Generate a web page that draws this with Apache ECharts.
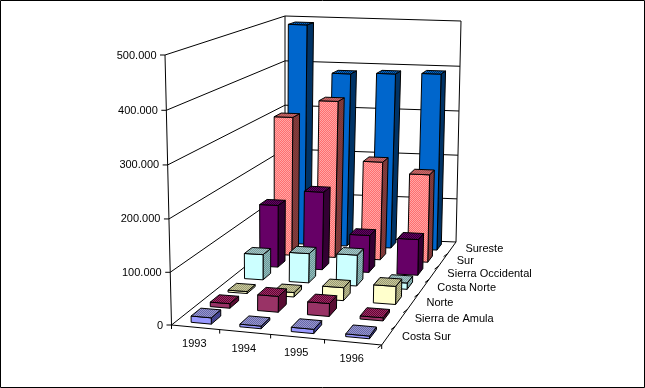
<!DOCTYPE html>
<html><head><meta charset="utf-8">
<style>html,body{margin:0;padding:0;background:#fff}#c{width:645px;height:388px}</style>
<script src="https://cdn.jsdelivr.net/npm/echarts@6/dist/echarts.min.js"></script>
</head><body><div id="c"></div>
<script>
const years = ['1993','1994','1995','1996'];
const regions = ['Costa Sur','Sierra de Amula','Norte','Costa Norte','Sierra Occidental','Sur','Sureste'];
const costaSur   = [12000, 5000, 8000, 5000];
const sierraAmula= [9000, 31000, 25000, 6000];
const norte      = [4000, 9000, 26000, 36000];
const costaNorte = [53000, 61000, 64000, 13000];
const sierraOcc  = [133000, 166000, 79000, 76000];
const sur        = [303000, 341000, 214000, 191000];
const sureste    = [490000, 386000, 389000, 392000];
const seriesValues = [costaSur, sierraAmula, norte, costaNorte, sierraOcc, sur, sureste];
const valueTicks = [0,100000,200000,300000,400000,500000];
const valueLabels = ['0','100.000','200.000','300.000','400.000','500.000'];
const faceColors = [['#9999FF','#9999FF'],['#993366','#993366'],['#FFFFCC','#FFFFCC'],['#CCFFFF','#CCFFFF'],['#660066','#660066'],['#FF6E6E','#FFA6A6'],['#0066CC','#0066CC']];
const sideColors = [['#333399','#555588'],['#660033','#4C1933'],['#999966','#BBBB99'],['#669999','#99BBBB'],['#330033','#330033'],['#993333','#664040'],['#003366','#003366']];
const topColors  = [['#9999CC','#6666AA'],['#993366','#660033'],['#CCCC99','#999977'],['#99CCCC','#889999'],['#660066','#330033'],['#CC6666','#AA5555'],['#0066CC','#003366']];

const W = 645, H = 388;
const floorQuad = [[171.5,325],[381.7,345],[456,242],[285,235]];
const topQuad   = [[165,55],[386,62],[461,21],[285,16]];
const nU = years.length, nV = regions.length;
const barW = 0.42, barD = 0.5, barShift = 0.02, depthWarp = 0.03;

function checker(pair){
  if(pair[0]===pair[1]) return pair[0];
  const cv=document.createElement('canvas'); cv.width=2; cv.height=2;
  const g=cv.getContext('2d');
  g.fillStyle=pair[0]; g.fillRect(0,0,2,2);
  g.fillStyle=pair[1]; g.fillRect(0,0,1,1); g.fillRect(1,1,1,1);
  return {image:cv,repeat:'repeat'};
}
const faceFill=faceColors.map(checker), sideFill=sideColors.map(checker), topFill=topColors.map(checker);

function homography(q){
  const [p0,p1,p2,p3] = q;
  const dx1=p1[0]-p2[0], dx2=p3[0]-p2[0], sx=p0[0]-p1[0]+p2[0]-p3[0];
  const dy1=p1[1]-p2[1], dy2=p3[1]-p2[1], sy=p0[1]-p1[1]+p2[1]-p3[1];
  const den=dx1*dy2-dx2*dy1;
  const g=(sx*dy2-dx2*sy)/den, h=(dx1*sy-sx*dy1)/den;
  const a=p1[0]-p0[0]+g*p1[0], b=p3[0]-p0[0]+h*p3[0], c=p0[0];
  const d=p1[1]-p0[1]+g*p1[1], e=p3[1]-p0[1]+h*p3[1], f=p0[1];
  return (s,t)=>{const w=g*s+h*t+1;return [(a*s+b*t+c)/w,(d*s+e*t+f)/w];};
}
const hFloor = homography(floorQuad), hTop = homography(topQuad);
function project(u,v,z){
  const F=hFloor(u/nU,v/nV), T=hTop(u/nU,v/nV);
  const k=z*(1-depthWarp*(1-z));
  return [F[0]+(T[0]-F[0])*k, F[1]+(T[1]-F[1])*k];
}
const zFrac = (api,val)=> 1-api.coord([0,val])[1]/H;
const line = (pts)=>({type:'polyline',shape:{points:pts},style:{stroke:'#000',lineWidth:1,fill:null},silent:true});
const label = (text,x,y,align)=>({type:'text',x,y,style:{text,fill:'#000',font:'11px "Liberation Sans", Arial, sans-serif',align,verticalAlign:'middle'},silent:true});

const barData = [];
for(let r=nV-1;r>=0;r--) for(let i=0;i<nU;i++) barData.push([i,seriesValues[r][i],r]);

function renderBar(params,api){
  const i=api.value(0), val=api.value(1), r=api.value(2);
  const z=zFrac(api,val);
  const c=i+.5+barShift;
  const u0=c-barW/2,u1=c+barW/2,v0=r+.5-barD/2,v1=r+.5+barD/2;
  const poly=(pts,fill)=>({type:'polygon',shape:{points:pts},style:{fill,stroke:'#000',lineWidth:1},silent:true});
  return {type:'group',children:[
    poly([project(u1,v0,0),project(u1,v1,0),project(u1,v1,z),project(u1,v0,z)],sideFill[r]),
    poly([project(u0,v0,0),project(u1,v0,0),project(u1,v0,z),project(u0,v0,z)],faceFill[r]),
    poly([project(u0,v0,z),project(u1,v0,z),project(u1,v1,z),project(u0,v1,z)],topFill[r])
  ]};
}
function renderValueTick(params,api){
  const idx=params.dataIndex, z=zFrac(api,api.value(1));
  const a=project(0,0,z),b=project(0,nV,z),c=project(nU,nV,z);
  return {type:'group',children:[
    line([a,b,c]),
    line([[a[0]-5,a[1]],a]),
    label(valueLabels[idx],a[0]-8.5,a[1]+0.5,'right')
  ]};
}
function renderYear(params,api){
  const i=api.value(0);
  const t=project(i,0,0), m=project(i+.5,0,0);
  return {type:'group',children:[
    line([t,[t[0],t[1]+4]]),
    label(years[i],m[0]-1,m[1]+16.5,'center')
  ]};
}
function renderRegion(params,api){
  const r=api.value(2);
  const t=project(nU,r,0), m=project(nU,r+.5,0);
  return {type:'group',children:[
    line([t,[t[0]-4,t[1]+3]]),
    label(regions[r],m[0]+13.5,m[1]+1,'left')
  ]};
}
function renderFrame(params,api){
  const zt=zFrac(api,valueTicks[valueTicks.length-1]);
  const t4=project(nU,0,0);
  return {type:'group',children:[
    line([project(0,0,0),project(0,0,zt)]),
    line([project(0,nV,0),project(0,nV,zt)]),
    line([project(nU,nV,0),project(nU,nV,zt)]),
    line([project(0,0,0),t4,project(nU,nV,0)]),
    line([t4,[t4[0],t4[1]+4]])
  ]};
}
const common={type:'custom',clip:false,silent:true,animation:false,encode:{x:0,y:1}};
const chart=echarts.init(document.getElementById('c'),null,{width:W,height:H});
chart.setOption({
  backgroundColor:'#fff',animation:false,
  grid:{left:0,right:0,top:0,bottom:0},
  xAxis:{type:'category',data:years,show:false},
  yAxis:{type:'value',min:0,max:500000,show:false},
  graphic:[{type:'rect',shape:{x:0.5,y:0.5,width:644,height:387},style:{fill:null,stroke:'#000',lineWidth:1},silent:true}],
  series:[
    {...common,z:1,renderItem:renderFrame,data:[[0,0,0]]},
    {...common,z:2,renderItem:renderValueTick,data:valueTicks.map(v=>[0,v,0])},
    {...common,z:3,renderItem:renderYear,data:years.map((y,i)=>[i,0,0])},
    {...common,z:4,renderItem:renderRegion,data:regions.map((n,r)=>[0,0,r])},
    {...common,z:5,renderItem:renderBar,data:barData}
  ]
});
</script></body></html>
